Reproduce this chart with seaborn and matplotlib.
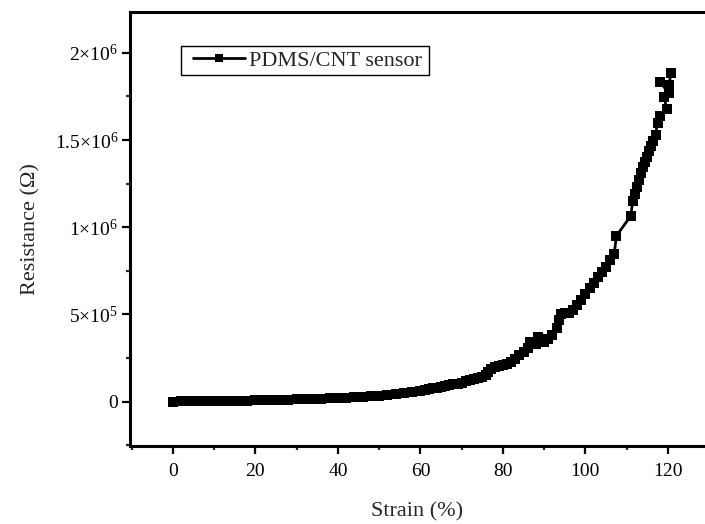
import numpy as np
import pandas as pd
import matplotlib
matplotlib.use("Agg")
import matplotlib.pyplot as plt
from matplotlib.ticker import MultipleLocator, FixedLocator, FuncFormatter
from matplotlib.patches import Rectangle
import seaborn as sns

# ---- data ----
strain = [0, 2, 4, 6, 8, 10, 12, 14, 16, 18, 20, 22, 24, 26, 28, 30, 32, 34, 36, 38,
          40, 42, 44, 46, 48, 50, 52, 54, 56, 58, 60, 61, 62, 63, 64, 65, 66, 67, 68, 69,
          70, 71, 72, 73, 74, 75, 76, 76.5, 77, 78, 79, 80, 81, 82, 83, 84, 85, 86, 86.5,
          87, 88, 88.5, 89, 90, 91, 92, 93, 93.5, 94, 95, 96, 97, 98, 99, 100, 101, 102,
          103, 104, 105, 106, 107, 107.5, 111, 111.5, 112, 112.5, 113, 113.5, 114, 114.5,
          115, 115.5, 116, 116.5, 117, 117.5, 118, 119.8, 119, 120.2, 118.2, 120.2, 120.8]
resistance = [1000, 1500, 2000, 2500, 3000, 3500, 4000, 5000, 5500, 6500, 7500, 8500, 9500,
              10500, 12000, 13500, 15000, 16500, 18000, 20000, 22000, 24000, 26500, 29000,
              32000, 35000, 39000, 43000, 50000, 56000, 63000, 67000, 71000, 76000, 80000,
              85000, 89000, 94000, 99000, 104000, 110000, 116000, 122000, 128000, 135000,
              143000, 155000, 172000, 188000, 198000, 205000, 210000, 218000, 228000, 245000,
              265000, 285000, 310000, 340000, 345000, 330000, 370000, 355000, 345000, 360000,
              385000, 420000, 470000, 500000, 510000, 510000, 525000, 555000, 585000, 620000,
              650000, 680000, 715000, 745000, 775000, 810000, 845000, 950000, 1065000,
              1150000, 1190000, 1230000, 1270000, 1310000, 1345000, 1375000, 1405000, 1435000,
              1465000, 1495000, 1530000, 1600000, 1640000, 1680000, 1745000, 1770000, 1830000,
              1815000, 1885000]
series_label = "PDMS/CNT sensor"
x_label = "Strain (%)"
y_label = "Resistance (\u03a9)"
y_ticks = [0, 5e5, 1e6, 1.5e6, 2e6]
y_tick_labels = ["0", r"$\mathregular{5{\times}10^{5}}$", r"$\mathregular{1{\times}10^{6}}$",
                 r"$\mathregular{1.5{\times}10^{6}}$", r"$\mathregular{2{\times}10^{6}}$"]

df = pd.DataFrame({"strain": strain, "resistance": resistance})

sns.set_theme(style="ticks")
plt.rcParams["font.family"] = ["Liberation Serif", "DejaVu Serif"]
plt.rcParams["mathtext.fontset"] = "custom"
plt.rcParams["mathtext.rm"] = "Liberation Serif"
plt.rcParams["mathtext.it"] = "Liberation Serif:italic"
plt.rcParams["mathtext.bf"] = "Liberation Serif:bold"

W, H = 705, 524
fig = plt.figure(figsize=(W / 100, H / 100), dpi=100)
ax = fig.add_axes([130 / W, 1 - 446 / H, 1 - 130 / W, (446 - 12) / H])

sns.lineplot(data=df, x="strain", y="resistance", sort=False, estimator=None,
             color="black", marker="s", markersize=7.7, markeredgewidth=0,
             linewidth=2, label=series_label, ax=ax)

ax.set_xlim(-10.4, 129.0)
ax.set_ylim(-2.54e5, 2.234e6)
ax.xaxis.set_major_locator(MultipleLocator(20))
ax.xaxis.set_minor_locator(MultipleLocator(10))
ax.yaxis.set_major_locator(FixedLocator(y_ticks))
ax.yaxis.set_minor_locator(MultipleLocator(2.5e5))
ax.yaxis.set_major_formatter(FuncFormatter(lambda v, p: y_tick_labels[y_ticks.index(v)] if v in y_ticks else ""))

for s in ["left", "bottom", "top"]:
    ax.spines[s].set_linewidth(2.2)
    ax.spines[s].set_color("black")
ax.spines["right"].set_visible(False)

ax.tick_params(which="major", direction="out", length=5.5, width=1.6, labelsize=14,
               colors="black", pad=3, top=False, right=False)
ax.tick_params(which="minor", direction="out", length=3, width=1.6, top=False, right=False)
ax.tick_params(axis="x", which="major", pad=7)

ax.set_xlabel(x_label, fontsize=16, labelpad=16)
ax.set_ylabel(y_label, fontsize=16, labelpad=10)

leg = ax.legend(loc="center left", bbox_to_anchor=(193 / W, 1 - 60.5 / H),
                bbox_transform=fig.transFigure,
                fontsize=16, frameon=False, borderpad=0,
                handlelength=2.34, handletextpad=0.2, markerscale=0.75, borderaxespad=0)
fig.add_artist(Rectangle((181 / W, 1 - 75 / H), (429 - 181) / W, (75 - 46) / H,
                         transform=fig.transFigure, fill=False, edgecolor="black",
                         linewidth=1.0))

fig.savefig("out.png", dpi=100)
